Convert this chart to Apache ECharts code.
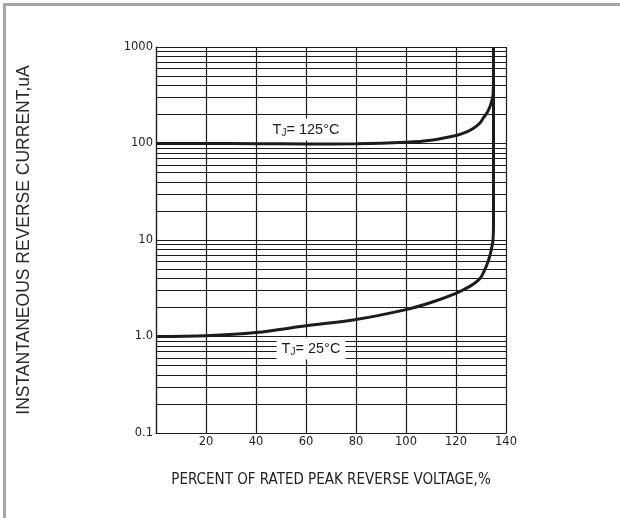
<!DOCTYPE html>
<html>
<head>
<meta charset="utf-8">
<script src="https://cdn.jsdelivr.net/npm/echarts@6/dist/echarts.min.js"></script>
<style>
html,body{margin:0;padding:0;background:#fff;}
#chart{width:620px;height:518px;}
</style>
</head>
<body>
<div id="chart"></div>
<script>
// ---- data ----
const xTicks = [0, 20, 40, 60, 80, 100, 120, 140];
const yTickValues = [0.1, 1, 10, 100, 1000];
const yTickLabels = ['0.1', '1.0', '10', '100', '1000'];
const minorMultipliers = [2, 3, 4, 5, 6, 7, 8, 9];
const decades = [0.1, 1, 10, 100];

const x125 = [0, 20, 40, 60, 80, 100, 110, 120, 124, 127, 129.5, 131, 132.5, 133.6, 134.3, 134.8, 135, 135];
const y125 = [100, 100, 99.5, 99, 99.5, 103, 108, 121, 131, 144, 162, 185, 210, 242, 275, 320, 450, 1000];

const x25 = [0, 20, 40, 60, 80, 100, 110, 120, 124, 127, 129.6, 131, 132.3, 133.2, 133.9, 134.4, 134.8, 135, 135];
const y25 = [1.0, 1.02, 1.1, 1.29, 1.5, 1.9, 2.25, 2.8, 3.15, 3.5, 4.0, 4.6, 5.5, 6.4, 7.5, 8.6, 10, 14, 1000];

const curveLabelX = [60, 62];
const curveLabelY = [140, 0.75];
const curveLabelText = ['T{sub|J}= 125°C', 'T{sub|J}= 25°C'];

const xTitle = 'PERCENT OF RATED PEAK REVERSE VOLTAGE,%';
const yTitle = 'INSTANTANEOUS REVERSE CURRENT,uA';

// ---- build ----
const minorValues = [];
decades.forEach(d => minorMultipliers.forEach(m => minorValues.push(+(d * m).toPrecision(3))));

const pair = (xs, ys) => xs.map((x, i) => [x, ys[i]]);
const ink = '#1c1c1c';
const sansFont = 'Liberation Sans, Arial, sans-serif';

const chart = echarts.init(document.getElementById('chart'), null, { renderer: 'canvas' });
chart.setOption({
  animation: false,
  backgroundColor: '#fff',
  grid: { left: 156, right: 114, top: 47, bottom: 85, containLabel: false },
  xAxis: {
    type: 'value', min: 0, max: 140, interval: 20,
    name: xTitle, nameLocation: 'middle', nameGap: 40,
    nameTextStyle: { fontSize: 15, color: '#222', fontFamily: '"Liberation Sans Narrow", "Arial Narrow", "DejaVu Sans Condensed", sans-serif' },
    axisLine: { show: true, lineStyle: { color: ink, width: 1.2 } },
    axisTick: { show: false },
    axisLabel: { showMinLabel: false, margin: 3, fontSize: 11.5, color: '#222', fontFamily: 'DejaVu Sans, sans-serif' },
    splitLine: { show: true, lineStyle: { color: ink, width: 1.2 } }
  },
  yAxis: {
    type: 'log', logBase: 10, min: 0.1, max: 1000,
    name: yTitle, nameLocation: 'middle', nameGap: 123, nameRotate: 90,
    nameTextStyle: { fontSize: 17.5, color: '#2a2a2a', fontFamily: sansFont },
    axisLine: { show: true, lineStyle: { color: ink, width: 1.2 } },
    axisTick: { show: false },
    axisLabel: {
      margin: 3, fontSize: 11.5, color: '#222', fontFamily: 'DejaVu Sans, sans-serif',
      formatter: v => { const i = yTickValues.findIndex(t => Math.abs(t - v) / t < 1e-6); return i >= 0 ? yTickLabels[i] : ''; }
    },
    splitLine: { show: true, lineStyle: { color: ink, width: 1.2 } }
  },
  graphic: [
    { type: 'rect', shape: { x: 3, y: 3, width: 617, height: 3 }, style: { fill: '#a6a6aa' }, silent: true },
    { type: 'rect', shape: { x: 3, y: 3, width: 3, height: 515 }, style: { fill: '#a6a6aa' }, silent: true }
  ],
  series: [
    {
      type: 'line', data: [], silent: true,
      markLine: {
        silent: true, symbol: 'none', animation: false,
        label: { show: false },
        lineStyle: { color: ink, width: 1, type: 'solid' },
        data: minorValues.map(v => ({ yAxis: v }))
      },
      z: 1
    },
    {
      type: 'line', name: 'TJ=125', data: pair(x125, y125), smooth: 0.35,
      showSymbol: false, lineStyle: { color: ink, width: 3 }, z: 5
    },
    {
      type: 'line', name: 'TJ=25', data: pair(x25, y25), smooth: 0.35,
      showSymbol: false, lineStyle: { color: ink, width: 3 }, z: 5
    },
    {
      type: 'scatter', silent: true, z: 10,
      symbol: 'rect', symbolSize: 2,
      itemStyle: { color: 'rgba(255,255,255,0)', opacity: 1 },
      emphasis: { disabled: true },
      data: curveLabelX.map((x, i) => ({ value: [x, curveLabelY[i]], label: { formatter: curveLabelText[i] } })),
      label: {
        show: true, position: 'inside',
        color: ink, fontSize: 14.5, fontFamily: sansFont,
        backgroundColor: '#ffffff', opacity: 1,
        padding: [3, 5, 2, 5],
        rich: { sub: { fontSize: 10, padding: [7, 0, 0, 0], color: ink, fontFamily: sansFont } }
      },
      labelLayout: { hideOverlap: false }
    }
  ]
});
</script>
</body>
</html>
